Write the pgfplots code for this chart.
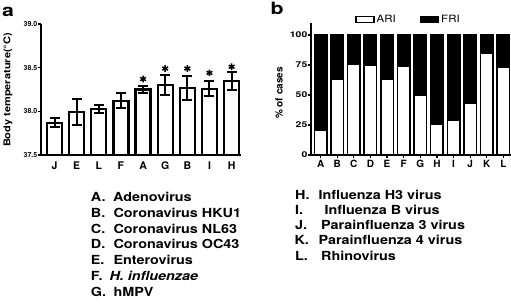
\documentclass[border=0pt]{standalone}
\usepackage{fontspec}
\setmainfont{TeX Gyre Heros}
\usepackage{pgfplots}
\pgfplotsset{compat=1.18}
\newcommand{\sx}[2][1.15]{\scalebox{#1}[1]{#2}}
\begin{document}
\begin{tikzpicture}[x=1pt,y=1pt]
\useasboundingbox (0,0) rectangle (511,306);

% ---------- panel a ----------
\begin{axis}[
  at={(41pt,151pt)}, anchor=south west,
  width=199.7pt, height=131pt, scale only axis,
  xmin=-0.61, xmax=8.41, ymin=37.5, ymax=39,
  axis x line*=bottom, axis y line*=left,
  axis line style={line width=1.5pt},
  ytick={37.5,38,38.5,39},
  /pgf/number format/assume math mode=true,
  /pgf/number format/.cd, fixed, fixed zerofill, precision=1, /pgfplots/.cd,
  yticklabel style={font=\bfseries\fontsize{7}{8}\selectfont, inner sep=0.5pt},
  xtick={0,...,8},
  xticklabels={J,E,L,F,A,G,B,I,H},
  xticklabel style={font=\bfseries\fontsize{10.5}{11}\selectfont, inner sep=0pt, yshift=-4pt},
  x tick style={draw=none},
  y tick style={line width=1.2pt, black},
  tick align=outside, major tick length=3pt,
  ylabel={\scalebox{1}[0.85]{Body temperature(°C)}},
  every axis y label/.style={at={(rel axis cs:-0.165,0.496)}, rotate=90, anchor=center, font=\bfseries\fontsize{11}{12}\selectfont},
]
\addplot[ybar, bar width=15pt, fill=white, draw=black, line width=2.2pt,
  error bars/.cd, y dir=both, y explicit,
  error bar style={line width=2pt, black},
  error mark=-,
  error mark options={rotate=90, black, line width=2pt, mark size=5pt, solid}]
coordinates {
 (0,37.87) +- (0,0.055)
 (1,37.99) +- (0,0.15)
 (2,38.03) +- (0,0.045)
 (3,38.12) +- (0,0.085)
 (4,38.25) +- (0,0.035)
 (5,38.30) +- (0,0.115)
 (6,38.27) +- (0,0.135)
 (7,38.26) +- (0,0.085)
 (8,38.35) +- (0,0.10)
};
\addplot[only marks, mark=asterisk, mark size=3.3pt, line width=1.5pt, black]
coordinates {(4,38.37) (5,38.49) (6,38.49) (7,38.44) (8,38.51)};
\end{axis}

% ---------- panel b ----------
\begin{axis}[
  at={(311pt,151pt)}, anchor=south west,
  width=202.3pt, height=132pt, scale only axis,
  ybar stacked, bar width=12.5pt,
  xmin=-0.58, xmax=11.6, ymin=0, ymax=110,
  axis x line*=bottom, axis y line*=left,
  axis line style={line width=1.5pt},
  ytick={0,25,50,75,100},
  /pgf/number format/assume math mode=true,
  yticklabel={\sx[1.3]{\pgfmathprintnumber{\tick}}},
  yticklabel style={font=\bfseries\fontsize{8}{9}\selectfont, inner sep=0.5pt},
  xtick={0,...,11},
  xticklabels={A,B,C,D,E,F,G,H,I,J,K,L},
  xticklabel style={font=\bfseries\fontsize{10}{11}\selectfont, inner sep=0pt, yshift=-2pt},
  tick style={line width=1.2pt, black},
  tick align=outside, major tick length=3pt,
  ylabel={\% of cases},
  every axis y label/.style={at={(rel axis cs:-0.158,0.47)}, rotate=90, anchor=center, font=\bfseries\fontsize{10}{11}\selectfont},
  legend columns=2,
  legend style={draw=none, fill=none, at={(0.482,1.025)}, anchor=center,
    font=\fontsize{10}{11}\selectfont,
    /tikz/every even column/.append style={column sep=22pt}},
  legend image code/.code={\draw[#1, line width=1.4pt] (0pt,-3pt) rectangle (18pt,3pt);},
]
\addplot[fill=white, draw=black, line width=1.5pt]
coordinates {(0,21) (1,63) (2,76) (3,75) (4,63) (5,74) (6,50) (7,26) (8,29) (9,43) (10,85) (11,73)};
\addplot[fill=black, draw=black, line width=1.5pt]
coordinates {(0,79) (1,37) (2,24) (3,25) (4,37) (5,26) (6,50) (7,74) (8,71) (9,57) (10,15) (11,27)};
\legend{\sx{ARI},\sx{FRI}}
\end{axis}

% ---------- panel letters ----------
\node[anchor=base west, inner sep=0pt, font=\bfseries\fontsize{17}{17}\selectfont] at (2,289.5) {\sx[1.25]{a}};
\node[anchor=base west, inner sep=0pt, font=\bfseries\fontsize{17}{17}\selectfont] at (270.5,291) {\sx[1.25]{b}};

% ---------- key ----------
\begin{scope}[every node/.style={anchor=base west, inner sep=0pt, font=\bfseries\fontsize{12.5}{13}\selectfont}]
\node at (90.7,104.5) {\sx{A.}}; \node at (113,104.5) {\sx{Adenovirus}};
\node at (90.7,88.75) {\sx{B.}}; \node at (113.3,88.75) {\sx{Coronavirus HKU1}};
\node at (90.7,73)    {\sx{C.}}; \node at (113.3,73)    {\sx{Coronavirus NL63}};
\node at (90.7,57.25) {\sx{D.}}; \node at (113.3,57.25) {\sx{Coronavirus OC43}};
\node at (90.7,41.5)  {\sx{E.}}; \node at (113.3,41.5)  {\sx{Enterovirus}};
\node at (90.7,25.75) {\sx{F.}}; \node at (109.3,25.75) {\sx{\itshape H. influenzae}};
\node at (90.7,10)    {\sx{G.}}; \node at (113.3,10)    {\sx{hMPV}};
\node at (295,107)    {\sx{H.}}; \node at (318.3,107)   {\sx{Influenza H3 virus}};
\node at (295,91.7)   {\sx{I.}}; \node at (324.3,91.7)  {\sx{Influenza B virus}};
\node at (295,76.4)   {\sx{J.}}; \node at (321,76.4)    {\sx{Parainfluenza 3 virus}};
\node at (294.3,61.1) {\sx{K.}}; \node at (318.3,61.1)  {\sx{Parainfluenza 4 virus}};
\node at (295,45.8)   {\sx{L.}}; \node at (321,45.8)    {\sx{Rhinovirus}};
\end{scope}
\end{tikzpicture}
\end{document}
